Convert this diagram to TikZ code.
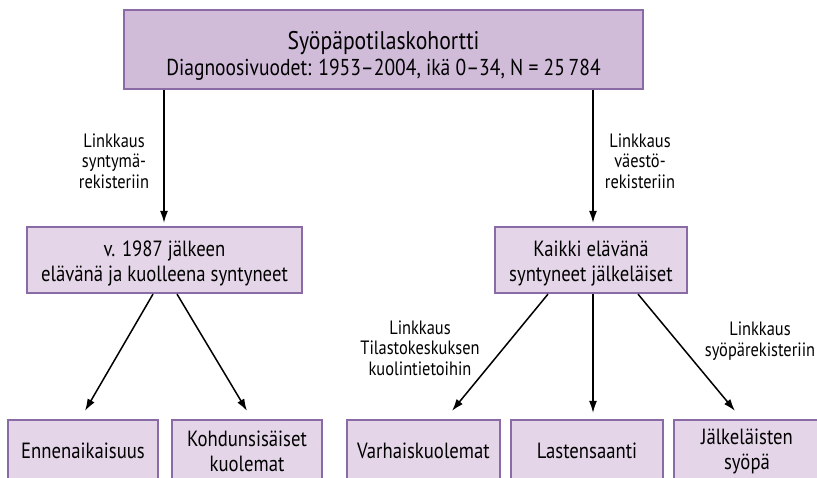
\documentclass[tikz,border=0pt]{standalone}
\usepackage{fontspec}
\setmainfont{PT Sans}[FakeStretch=0.85]
\usetikzlibrary{arrows.meta}
\definecolor{boxdark}{HTML}{D0BBD9}
\definecolor{boxlight}{HTML}{E4D6E8}
\definecolor{boxline}{HTML}{8B6BA6}
\begin{document}
\begin{tikzpicture}[x=1pt,y=-1pt,
  box/.style={draw=boxline, line width=2.2pt, inner sep=0pt, align=center,
    font=\fontsize{22}{25}\selectfont},
  topbox/.style={box, fill=boxdark, minimum width=519pt, minimum height=79pt},
  midbox/.style={box, fill=boxlight, minimum height=66pt},
  botbox/.style={box, fill=boxlight, minimum width=150pt, minimum height=62pt},
  conn/.style={line width=1.5pt, -{Latex[length=12pt,width=8pt]}},
  lbl/.style={align=center, inner sep=0pt, font=\fontsize{19.3}{20.5}\selectfont}]
\useasboundingbox (0,0) rectangle (817,477);
\clip (0,0) rectangle (817,477);
\node[topbox] (top) at (383.5,49.5)
  {\fontsize{25.5}{31}\selectfont\rule{0pt}{30pt}Syöpäpotilaskohortti\\[1pt]
   \fontsize{23}{31}\selectfont Diagnoosivuodet: 1953–2004, ikä 0–34, N = 25\,784};
\node[midbox, minimum width=275pt] (ml) at (164.5,260)
  {\rule{0pt}{22pt}v. 1987 jälkeen\\elävänä ja kuolleena syntyneet};
\node[midbox, minimum width=192pt] (mr) at (591,260)
  {\rule{0pt}{22pt}Kaikki elävänä\\syntyneet jälkeläiset};
\node[botbox] (b1) at (83,451) {Ennenaikaisuus};
\node[botbox] (b2) at (247,451) {Kohdunsisäiset\\kuolemat};
\node[botbox, minimum width=153pt] (b3) at (423.5,451) {Varhaiskuolemat};
\node[botbox, minimum width=152pt] (b4) at (587,451) {Lastensaanti};
\node[botbox, minimum width=146pt] (b5) at (747,451) {Jälkeläisten\\syöpä};
\node[lbl] (l1) at (114,161) {Linkkaus\\syntymä-\\rekisteriin};
\node[lbl] (l2) at (640,161) {Linkkaus\\väestö-\\rekisteriin};
\node[lbl] (l3) at (420,348) {Linkkaus\\Tilastokeskuksen\\kuolintietoihin};
\node[lbl] (l4) at (760,341) {Linkkaus\\syöpärekisteriin};
\draw[conn] ([xshift=-219.5pt]top.south) -- ([xshift=-0.5pt,yshift=3pt]ml.north);
\draw[conn] ([xshift=209.5pt]top.south) -- ([xshift=2pt,yshift=3pt]mr.north);
\draw[conn] ([xshift=-11.5pt]ml.south) -- ([xshift=2pt,yshift=8pt]b1.north);
\draw[conn] ([xshift=12.5pt]ml.south) -- ([yshift=8pt]b2.north);
\draw[conn] ([xshift=-43pt]mr.south) -- ([xshift=28.5pt,yshift=8pt]b3.north);
\draw[conn] ([xshift=2pt]mr.south) -- ([xshift=6pt,yshift=6pt]b4.north);
\draw[conn] ([xshift=47pt]mr.south) -- ([xshift=-12pt,yshift=8pt]b5.north);
\end{tikzpicture}
\end{document}
